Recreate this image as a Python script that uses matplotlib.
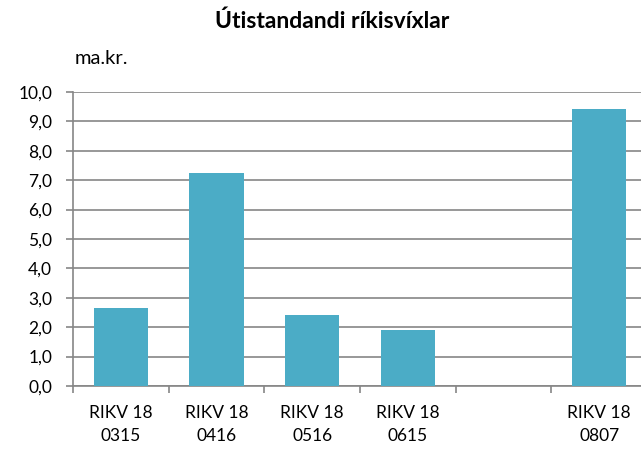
import matplotlib.pyplot as plt
import numpy as np

plt.rcParams['font.family'] = ['Lato', 'DejaVu Sans']

# Outstanding treasury bills, ma.kr.
categories = ['RIKV 18\n0315', 'RIKV 18\n0416', 'RIKV 18\n0516', 'RIKV 18\n0615', '', 'RIKV 18\n0807']
values = [2.65, 7.25, 2.4, 1.9, np.nan, 9.42]
yticks = np.arange(0, 10.01, 1.0)

grid_color = '#868686'
bar_color = '#4BACC6'

fig = plt.figure(figsize=(6.41, 4.55), dpi=100)
ax = fig.add_axes([73 / 641, 69 / 455, 574 / 641, 294 / 455])

x = np.arange(len(categories))
ax.bar(x, values, width=0.57, color=bar_color, zorder=3)

ax.set_xlim(-0.5, len(categories) - 0.5)
ax.set_ylim(0, 10)
ax.set_yticks(yticks)
ax.set_yticklabels([f'{v:.1f}'.replace('.', ',') for v in yticks], fontsize=12.5)
ax.yaxis.grid(True, color=grid_color, linewidth=1.2, zorder=0)

ax.set_xticks(x)
ax.set_xticklabels(categories, fontsize=12.5, linespacing=1.5)
ax.tick_params(axis='x', which='major', length=0, pad=14)
ax.set_xticks(np.arange(-0.5, len(categories)), minor=True)
ax.tick_params(axis='x', which='minor', length=5, width=1.2, color=grid_color)
ax.tick_params(axis='y', length=5, width=1.2, color=grid_color, pad=10)

for side in ['top', 'right']:
    ax.spines[side].set_visible(False)
for side in ['left', 'bottom']:
    ax.spines[side].set_color(grid_color)
    ax.spines[side].set_linewidth(1.2)

fig.text(332 / 641, 1 - 21 / 455, 'Útistandandi ríkisvíxlar', ha='center', va='center',
         fontsize=16.5, fontweight='bold')
fig.text(75 / 641, 1 - 58 / 455, 'ma.kr.', ha='left', va='center', fontsize=14.5)

fig.savefig('out.png', dpi=100)
